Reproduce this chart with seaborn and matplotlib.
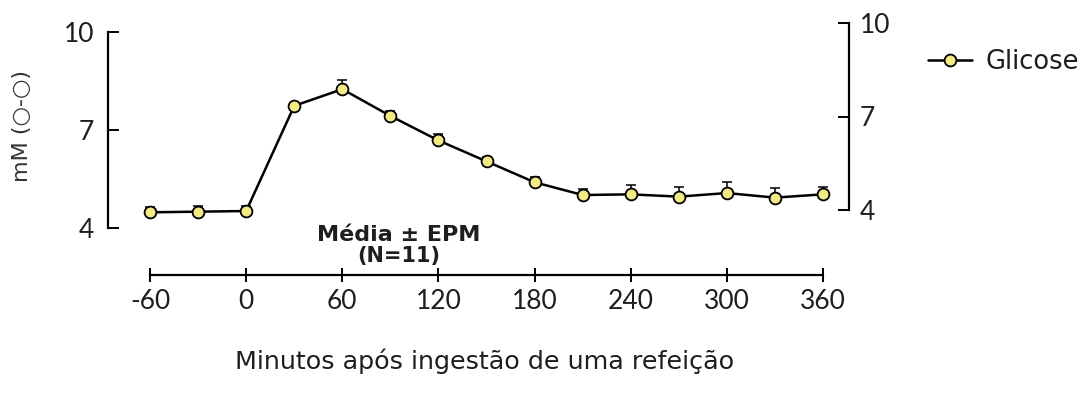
import numpy as np
import pandas as pd
import matplotlib
matplotlib.use("Agg")
import matplotlib.pyplot as plt
import seaborn as sns

# ---- data ----
minutes = [-60, -30, 0, 30, 60, 90, 120, 150, 180, 210, 240, 270, 300, 330, 360]
glucose = [4.48, 4.50, 4.52, 7.74, 8.25, 7.43, 6.68, 6.04, 5.40, 5.01, 5.03, 4.96, 5.07, 4.93, 5.03]
sem = [0.17, 0.17, 0.15, 0.10, 0.27, 0.16, 0.19, 0.14, 0.16, 0.17, 0.30, 0.30, 0.33, 0.30, 0.23]
x_ticks = [-60, 0, 60, 120, 180, 240, 300, 360]
y_ticks = [4, 7, 10]
series_name = "Glicose"
x_label = "Minutos após ingestão de uma refeição"
y_label = "mM (○-○)"
note1 = "Média ± EPM"
note2 = "(N=11)"

df = pd.DataFrame({"min": minutes, "glc": glucose, "sem": sem})

sns.set_theme(style="white")
plt.rcParams["font.family"] = ["DejaVu Sans"]
plt.rcParams["axes.unicode_minus"] = False
TXT = "#1e1e1e"
TICKFONT = ["Lato", "DejaVu Sans"]
TICKSIZE = 19

W, H = 1089, 398
fig = plt.figure(figsize=(W / 100, H / 100), dpi=100)

left = 108 / W
width = 741 / W
xlim = (-86.25, 376.25)

# main data axes (left scale)
ax = fig.add_axes([left, (H - 228) / H, width, (228 - 32) / H])
ax.patch.set_alpha(0)
ax.set_xlim(*xlim)
ax.set_ylim(4, 10)
for s in ["top", "right", "bottom"]:
    ax.spines[s].set_visible(False)
ax.spines["left"].set_color("black")
ax.spines["left"].set_linewidth(1.6)
ax.set_xticks([])
ax.set_yticks(y_ticks)
ax.tick_params(axis="y", direction="in", length=8, width=1.4, color="black",
               pad=10, labelsize=TICKSIZE, labelcolor=TXT, left=True)
for t in ax.get_yticklabels():
    t.set_family(TICKFONT)

lower = np.zeros(len(sem))
ax.errorbar(df["min"], df["glc"], yerr=[lower, df["sem"]], fmt="none",
            ecolor="black", elinewidth=1.1, capsize=3.5, capthick=1.1,
            zorder=2, clip_on=False)
sns.lineplot(data=df, x="min", y="glc", ax=ax, color="black", lw=1.8,
             marker="o", markersize=8.5, markerfacecolor="#f3ea86",
             markeredgecolor="black", markeredgewidth=1.3,
             errorbar=None, label=series_name, zorder=3, clip_on=False)
ax.set_xlabel("")
ax.set_ylabel("")

handles, labels = ax.get_legend_handles_labels()
ax.get_legend().remove()
fig.legend(handles, labels, loc="center left",
           bbox_to_anchor=(928 / W, 1 - 62 / H), frameon=False,
           fontsize=18.5, handlelength=1.7, handletextpad=0.55,
           borderpad=0, borderaxespad=0, labelcolor=TXT)

ax.text(95, 3.80, note1, ha="center", va="center", fontsize=16,
        fontweight="bold", color=TXT, clip_on=False)
ax.text(95, 3.15, note2, ha="center", va="center", fontsize=15,
        fontweight="bold", color=TXT, clip_on=False)

# right scale axis
ax2 = fig.add_axes([left, (H - 210) / H, width, (210 - 23) / H])
ax2.patch.set_alpha(0)
ax2.set_xlim(*xlim)
ax2.set_ylim(4, 10)
for s in ["top", "left", "bottom"]:
    ax2.spines[s].set_visible(False)
ax2.spines["right"].set_linewidth(1.6)
ax2.spines["right"].set_color("black")
ax2.set_xticks([])
ax2.yaxis.tick_right()
ax2.set_yticks(y_ticks)
ax2.tick_params(axis="y", direction="in", length=8, width=1.4, color="black",
                pad=8, labelsize=TICKSIZE, labelcolor=TXT, right=True, left=False)
for t in ax2.get_yticklabels():
    t.set_family(TICKFONT)

# detached x axis
ax3 = fig.add_axes([left, (H - 275) / H, width, 0.001])
ax3.patch.set_alpha(0)
ax3.set_xlim(*xlim)
for s in ["top", "left", "right"]:
    ax3.spines[s].set_visible(False)
ax3.spines["bottom"].set_bounds(-60, 360)
ax3.spines["bottom"].set_linewidth(1.6)
ax3.spines["bottom"].set_color("black")
ax3.set_yticks([])
ax3.set_xticks(x_ticks)
ax3.tick_params(axis="x", direction="inout", length=10, width=1.4,
                color="black", pad=5, labelsize=TICKSIZE, labelcolor=TXT, bottom=True)
for t in ax3.get_xticklabels():
    t.set_family(TICKFONT)
ax3.set_xlabel(x_label, fontsize=18.3, color=TXT, labelpad=25)
ax3.xaxis.label.set_position(((485 - 108) / 741, 0))

fig.text(22 / W, 1 - 126 / H, y_label, rotation=90, ha="center", va="center",
         fontsize=16, color="#333333")

fig.savefig("out.png", dpi=100)
